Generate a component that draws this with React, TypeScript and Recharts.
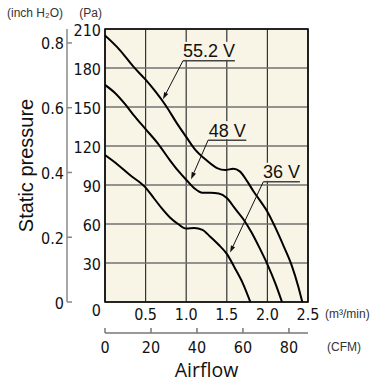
import React from 'react';
import { LineChart, Line, XAxis, YAxis, CartesianGrid, ReferenceLine, ReferenceArea } from 'recharts';

// ---- data ----
const flow552 = [0, 0.18, 0.35, 0.5, 0.62, 0.75, 0.88, 1.0, 1.1, 1.25, 1.38, 1.48, 1.58, 1.66, 1.75, 1.83, 1.92, 2.0, 2.1, 2.2, 2.3, 2.38, 2.43];
const pa552 = [205, 194, 181, 171, 162, 151, 138, 127, 118, 109, 103, 101.5, 102.5, 100.5, 93, 85, 77, 69.5, 57, 43, 28, 12, 0];

const flow48 = [0, 0.12, 0.25, 0.35, 0.5, 0.65, 0.8, 0.9, 1.0, 1.1, 1.2, 1.3, 1.4, 1.5, 1.6, 1.7, 1.8, 1.9, 2.0, 2.1, 2.18];
const pa48 = [167, 161, 152, 144, 133, 122, 109, 101, 94, 87.5, 84, 84, 83.5, 80, 72, 64, 54, 42, 29, 14, 0];

const flow36 = [0, 0.15, 0.3, 0.5, 0.6, 0.7, 0.8, 0.9, 1.0, 1.1, 1.2, 1.3, 1.4, 1.5, 1.6, 1.7, 1.79];
const pa36 = [113, 106, 98, 88, 80, 72, 65, 60, 56.5, 57, 55.5, 50, 44, 37, 26, 14, 0];

const paTicks = [0, 30, 60, 90, 120, 150, 180, 210];
const inchTicks = [0, 0.2, 0.4, 0.6, 0.8];
const m3Ticks = [0.5, 1.0, 1.5, 2.0, 2.5];
const cfmTicks = [0, 20, 40, 60, 80];
const PA_PER_INCH = 249.09;
const CFM_PER_M3 = 35.3147;
const X_MAX = 2.5;
const PA_MAX = 210;

const voltLabels = ['55.2 V', '48 V', '36 V'];
const labelX1 = [0.96, 1.27, 1.95];
const labelX2 = [1.6, 1.74, 2.4];
const labelY = [185.5, 124.5, 92.5];
const tipX = [0.714, 1.06, 1.54];
const tipY = [156, 94.5, 38];

const toPts = (q: number[], p: number[]) => q.map((v, i) => ({ q: v, p: p[i] }));
const series = [toPts(flow552, pa552), toPts(flow48, pa48), toPts(flow36, pa36)];
// helper data so the CFM axis has values of its own (drawn invisibly)
const cfmAxisData = [0, X_MAX * CFM_PER_M3].map((c) => ({ c, p: 0 }));

const X_M3 = 'a_m3';
const X_CFM = 'b_cfm';
const Y_PA = 'a_pa';
const Y_INCH = 'b_inch';

const BG = '#f9f5e6';
const NARROW = "'Liberation Sans Narrow', 'DejaVu Sans Condensed', 'Liberation Sans', sans-serif";
const SANS = "'Liberation Sans', Arial, sans-serif";

const PaTick = (props: any) => {
  const { x, y, payload } = props;
  const v = payload.value;
  return (
    <text x={x} y={v === 0 ? y + 13.5 : y + 6.5} textAnchor="end" fontFamily={NARROW} fontSize={16} fill="#111">
      {String(v)}
    </text>
  );
};

const InchTick = (props: any) => {
  const { x, y, payload } = props;
  const v = payload.value;
  return (
    <g>
      <line x1={x} y1={y} x2={x + 5} y2={y} stroke="#888" strokeWidth={1.5} />
      <text x={x - 3} y={y + 6.5} textAnchor="end" fontFamily={NARROW} fontSize={16} fill="#111">
        {v === 0 ? '0' : v.toFixed(1)}
      </text>
    </g>
  );
};

const M3Tick = (props: any) => {
  const { x, y, payload } = props;
  return (
    <text x={x} y={y + 18} textAnchor="middle" fontFamily={NARROW} fontSize={16} fill="#111">
      {payload.value.toFixed(1)}
    </text>
  );
};

const CfmTick = (props: any) => {
  const { x, y, payload } = props;
  return (
    <g>
      <line x1={x} y1={y} x2={x} y2={y - 5} stroke="#777" strokeWidth={1.5} />
      <text x={x} y={y + 19.5} textAnchor="middle" fontFamily={NARROW} fontSize={16} fill="#111">
        {String(payload.value)}
      </text>
    </g>
  );
};

const underlineShape = (text: string) => (props: any) => {
  const { x1, y1, x2, y2 } = props;
  return (
    <g>
      <rect x={x1} y={y1 - 19} width={x2 - x1} height={18} fill={BG} />
      <text x={(x1 + x2) / 2} y={y1 - 3.5} textAnchor="middle" fontFamily={SANS} fontSize={18} fill="#111">
        {text}
      </text>
      <line x1={x1} y1={y1} x2={x2} y2={y2} stroke="#444" strokeWidth={1.5} />
    </g>
  );
};

const ArrowShape = (props: any) => {
  const { x1, y1, x2, y2 } = props;
  const a = Math.atan2(y2 - y1, x2 - x1);
  const L = 7;
  const W = 2.3;
  const c = Math.cos(a);
  const s = Math.sin(a);
  const bx = x2 - L * c;
  const by = y2 - L * s;
  const pts = `${x2},${y2} ${bx + W * s},${by - W * c} ${bx - W * s},${by + W * c}`;
  return (
    <g>
      <line x1={x1} y1={y1} x2={bx} y2={by} stroke="#111" strokeWidth={1} />
      <polygon points={pts} fill="#111" />
    </g>
  );
};

export default function App() {
  return (
    <div style={{ position: 'absolute', left: 0, top: 0 }}>
      <LineChart width={379} height={387} margin={{ top: 29, right: 71, bottom: 4, left: 5 }}>
        <CartesianGrid xAxisId={X_M3} yAxisId={Y_PA} horizontal={false} vertical stroke="#333" strokeWidth={1.2} fill={BG} fillOpacity={1} />
        <CartesianGrid xAxisId={X_M3} yAxisId={Y_PA} horizontal vertical={false} stroke="#707070" strokeWidth={1.6} />
        <XAxis
          xAxisId={X_M3}
          dataKey="q"
          type="number"
          domain={[0, X_MAX]}
          ticks={m3Ticks}
          interval={0}
          allowDataOverflow
          height={31}
          axisLine={false}
          tickLine={false}
          tickSize={0}
          tickMargin={0}
          tick={<M3Tick />}
          label={{
            content: (p: any) => (
              <text x={p.viewBox.x + p.viewBox.width + 17} y={p.viewBox.y + 16} fontFamily={SANS} fontSize={12} fill="#333">
                (m³/min)
              </text>
            ),
          }}
        />
        <XAxis
          xAxisId={X_CFM}
          dataKey="c"
          type="number"
          domain={[0, X_MAX * CFM_PER_M3]}
          ticks={cfmTicks}
          interval={0}
          allowDataOverflow
          height={50}
          axisLine={{ stroke: '#777', strokeWidth: 1.5 }}
          tickLine={false}
          tickSize={0}
          tickMargin={0}
          tick={<CfmTick />}
          label={{
            content: (p: any) => (
              <g>
                <text x={p.viewBox.x + p.viewBox.width + 19} y={p.viewBox.y + 18} fontFamily={SANS} fontSize={12} fill="#333">
                  (CFM)
                </text>
                <text x={p.viewBox.x + p.viewBox.width / 2} y={p.viewBox.y + 44} textAnchor="middle" fontFamily="'Open Sans', sans-serif" fontSize={19.5} fill="#111">
                  Airflow
                </text>
              </g>
            ),
          }}
        />
        <YAxis
          yAxisId={Y_PA}
          type="number"
          domain={[0, PA_MAX]}
          ticks={paTicks}
          interval={0}
          allowDataOverflow
          width={38}
          axisLine={false}
          tickLine={false}
          tickSize={0}
          tickMargin={4}
          tick={<PaTick />}
          label={{
            content: (p: any) => (
              <text x={p.viewBox.x + p.viewBox.width - 3} y={17} textAnchor="end" fontFamily={SANS} fontSize={12} fill="#333">
                (Pa)
              </text>
            ),
          }}
        />
        <YAxis
          yAxisId={Y_INCH}
          type="number"
          domain={[0, PA_MAX / PA_PER_INCH]}
          ticks={inchTicks}
          interval={0}
          allowDataOverflow
          width={62}
          axisLine={{ stroke: '#888', strokeWidth: 1.5 }}
          tickLine={false}
          tickSize={0}
          tickMargin={0}
          tick={<InchTick />}
          label={{
            content: (p: any) => {
              const cy = p.viewBox.y + p.viewBox.height / 2;
              return (
                <g>
                  <text x={7} y={17} fontFamily={SANS} fontSize={12} fill="#333">
                    (inch H₂O)
                  </text>
                  <text x={32.5} y={cy} textAnchor="middle" transform={`rotate(-90, 32.5, ${cy})`} fontFamily={SANS} fontSize={20} fill="#111">
                    Static pressure
                  </text>
                </g>
              );
            },
          }}
        />
        <Line
          xAxisId={X_CFM}
          yAxisId={Y_PA}
          data={cfmAxisData}
          dataKey="p"
          stroke="none"
          strokeOpacity={0}
          dot={false}
          activeDot={false}
          legendType="none"
          isAnimationActive={false}
        />
        {series.map((d, i) => (
          <Line
            key={voltLabels[i]}
            xAxisId={X_M3}
            yAxisId={Y_PA}
            data={d}
            dataKey="p"
            type="monotone"
            stroke="#000"
            strokeWidth={2}
            dot={false}
            activeDot={false}
            isAnimationActive={false}
          />
        ))}
        <ReferenceArea xAxisId={X_M3} yAxisId={Y_PA} x1={0} x2={X_MAX} y1={0} y2={PA_MAX} fill="none" stroke="#000" strokeWidth={1.5} ifOverflow="visible" />
        {voltLabels.map((t, i) => (
          <ReferenceLine
            key={'u' + t}
            xAxisId={X_M3}
            yAxisId={Y_PA}
            segment={[{ x: labelX1[i], y: labelY[i] }, { x: labelX2[i], y: labelY[i] }]}
            shape={underlineShape(t)}
            ifOverflow="visible"
          />
        ))}
        {voltLabels.map((t, i) => (
          <ReferenceLine
            key={'a' + t}
            xAxisId={X_M3}
            yAxisId={Y_PA}
            segment={[{ x: labelX1[i], y: labelY[i] }, { x: tipX[i], y: tipY[i] }]}
            shape={ArrowShape}
            ifOverflow="visible"
          />
        ))}
      </LineChart>
    </div>
  );
}
